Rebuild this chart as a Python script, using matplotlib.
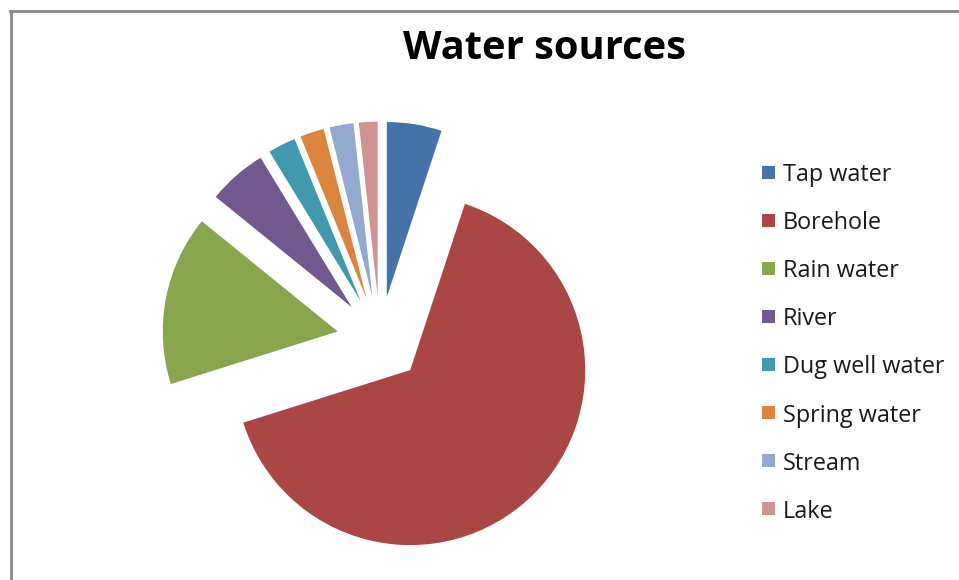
import matplotlib
matplotlib.use("Agg")
import matplotlib.pyplot as plt
from matplotlib.patches import Rectangle
from matplotlib.lines import Line2D

# Data (percent shares)
categories = ["Tap water", "Borehole", "Rain water", "River",
              "Dug well water", "Spring water", "Stream", "Lake"]
shares = [5.06, 65.1, 15.7, 5.44, 2.56, 2.22, 2.22, 1.72]
colors = ["#4572A7", "#AA4643", "#89A54E", "#71588F",
          "#4198AF", "#DB843D", "#93A9CF", "#D19392"]
title = "Water sources"

W, H = 959, 580
fig = plt.figure(figsize=(W / 100, H / 100), dpi=100)
ax = fig.add_axes([0, 0, 1, 1])

R = 175
cx, cy = 380, H - 339.5
ax.pie(shares, colors=colors, startangle=90, counterclock=False,
       radius=R, center=(cx, cy), explode=[43] * len(shares),
       wedgeprops=dict(linewidth=0), frame=True)
ax.set_xlim(0, W)
ax.set_ylim(0, H)
ax.set_aspect("equal")
ax.axis("off")

# Chart border (top and left visible)
fig.add_artist(Line2D([10 / W, 1], [1 - 11 / H, 1 - 11 / H], color="#8a8a8a", lw=2.0))
fig.add_artist(Line2D([11 / W, 11 / W], [0, 1 - 11 / H], color="#8a8a8a", lw=2.0))

fig.canvas.draw()
renderer = fig.canvas.get_renderer()

def fit_width(t, target):
    bb = t.get_window_extent(renderer=renderer)
    t.set_fontsize(t.get_fontsize() * target / bb.width)

# Title
tt = ax.text(544.5, H - 59, title, ha="center", va="baseline",
             fontsize=26, fontweight="bold", family="Open Sans", color="black")
fit_width(tt, 283)

# Legend
row0, step = 172, 48.1
texts = []
for i, (lab, col) in enumerate(zip(categories, colors)):
    yc = H - (row0 + i * step)
    ax.add_patch(Rectangle((762, yc - 6.5), 13, 13, facecolor=col, edgecolor="none"))
    texts.append(ax.text(783, yc, lab, ha="left", va="center_baseline",
                         fontsize=15, family="Open Sans", color="#1a1a1a"))
bb = texts[4].get_window_extent(renderer=renderer)
scale = 161 / bb.width
for t in texts:
    t.set_fontsize(t.get_fontsize() * scale)

fig.savefig("out.png", dpi=100, facecolor="white")
